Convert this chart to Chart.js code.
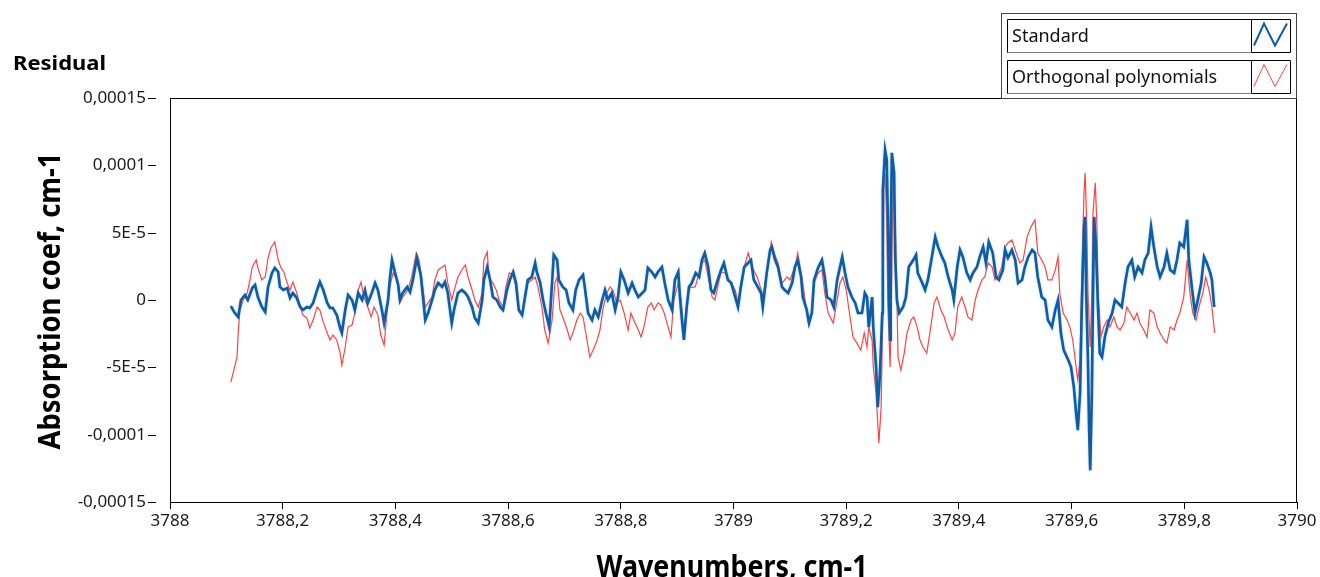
<!DOCTYPE html>
<html>
<head>
<meta charset="utf-8">
<script src="https://cdn.jsdelivr.net/npm/chart.js@4.4.1/dist/chart.umd.min.js"></script>
<style>
  html, body { margin: 0; padding: 0; background: #fff; }
  #chart { display: block; }
</style>
</head>
<body>
<canvas id="chart" width="1320" height="577"></canvas>
<script>
// residuals, y values in units of 1E-5 cm-1
const standardWn = [
  3788.108,3788.115,3788.121,3788.126,3788.133,3788.138,3788.146,3788.151,3788.156,3788.163,
  3788.169,3788.174,3788.181,3788.186,3788.192,3788.195,3788.201,3788.208,3788.213,3788.218,
  3788.225,3788.231,3788.236,3788.243,3788.248,3788.254,3788.261,3788.266,3788.272,3788.279,
  3788.284,3788.289,3788.296,3788.302,3788.305,3788.311,3788.316,3788.323,3788.328,3788.334,
  3788.341,3788.346,3788.351,3788.358,3788.364,3788.369,3788.376,3788.380,3788.387,3788.390,
  3788.394,3788.399,3788.405,3788.408,3788.413,3788.421,3788.426,3788.431,3788.438,3788.445,
  3788.449,3788.453,3788.458,3788.465,3788.470,3788.476,3788.483,3788.488,3788.493,3788.500,
  3788.504,3788.511,3788.518,3788.524,3788.529,3788.536,3788.541,3788.547,3788.554,3788.557,
  3788.563,3788.568,3788.573,3788.580,3788.586,3788.591,3788.598,3788.603,3788.609,3788.614,
  3788.619,3788.625,3788.630,3788.635,3788.642,3788.648,3788.651,3788.657,3788.662,3788.667,
  3788.673,3788.678,3788.681,3788.687,3788.690,3788.697,3788.703,3788.708,3788.715,3788.720,
  3788.726,3788.733,3788.736,3788.742,3788.749,3788.754,3788.760,3788.767,3788.772,3788.777,
  3788.784,3788.790,3788.795,3788.800,3788.806,3788.813,3788.820,3788.825,3788.831,3788.838,
  3788.843,3788.848,3788.855,3788.861,3788.866,3788.873,3788.878,3788.884,3788.891,3788.896,
  3788.902,3788.905,3788.909,3788.912,3788.917,3788.921,3788.926,3788.933,3788.939,3788.944,
  3788.949,3788.955,3788.960,3788.965,3788.972,3788.978,3788.983,3788.990,3788.996,3789.001,
  3789.008,3789.013,3789.019,3789.026,3789.031,3789.036,3789.043,3789.049,3789.052,3789.059,
  3789.065,3789.068,3789.074,3789.079,3789.086,3789.091,3789.097,3789.104,3789.109,3789.114,
  3789.120,3789.123,3789.130,3789.134,3789.139,3789.143,3789.150,3789.157,3789.162,3789.166,
  3789.173,3789.178,3789.184,3789.189,3789.193,3789.198,3789.203,3789.210,3789.216,3789.221,
  3789.228,3789.233,3789.237,3789.240,3789.246,3789.248,3789.253,3789.256,3789.260,3789.264,
  3789.265,3789.269,3789.272,3789.274,3789.276,3789.278,3789.279,3789.281,3789.285,3789.287,
  3789.290,3789.294,3789.301,3789.306,3789.311,3789.319,3789.324,3789.327,3789.335,3789.340,
  3789.345,3789.352,3789.358,3789.363,3789.370,3789.375,3789.381,3789.388,3789.391,3789.397,
  3789.402,3789.407,3789.414,3789.420,3789.425,3789.432,3789.437,3789.443,3789.448,3789.453,
  3789.460,3789.466,3789.471,3789.478,3789.482,3789.487,3789.494,3789.500,3789.505,3789.512,
  3789.517,3789.523,3789.530,3789.535,3789.540,3789.547,3789.553,3789.558,3789.565,3789.571,
  3789.576,3789.581,3789.586,3789.594,3789.599,3789.604,3789.608,3789.611,3789.615,3789.618,
  3789.622,3789.624,3789.626,3789.629,3789.631,3789.633,3789.636,3789.638,3789.640,3789.643,
  3789.647,3789.650,3789.654,3789.659,3789.665,3789.672,3789.677,3789.682,3789.689,3789.695,
  3789.700,3789.707,3789.712,3789.718,3789.725,3789.730,3789.736,3789.741,3789.746,3789.752,
  3789.757,3789.764,3789.769,3789.775,3789.782,3789.787,3789.792,3789.799,3789.805,3789.808,
  3789.814,3789.819,3789.824,3789.830,3789.835,3789.840,3789.846,3789.849,3789.853
];
const standardE5 = [
  -0.45,-0.97,-1.26,0,0.37,0,0.89,1.12,0.22,-0.52,
  -0.89,0.97,2.01,2.38,2.08,0.97,0.74,0.89,0.15,0.52,
  0.15,-0.52,-0.74,-0.52,-0.59,-0.22,0.74,1.34,0.74,-0.22,
  -0.59,-0.59,-1.12,-2.08,-2.45,-0.74,0.37,0,-0.74,0.52,
  0,0.74,-0.22,0.52,1.26,0.74,-0.74,-1.71,0,1.49,
  2.97,2.08,1.12,0,0.52,0.97,0.59,1.49,3.12,1.86,
  0.22,-1.49,-0.97,0,0.74,1.26,0.97,1.34,0.52,-1.71,
  -0.74,0.52,0.74,0.52,0.22,-0.52,-1.34,-1.71,0,1.49,
  2.45,1.49,0.22,0,-0.52,-0.74,0.74,1.49,2.08,1.26,
  -0.74,-1.12,0.22,1.49,1.71,2.75,2.08,1.26,0,-0.97,
  -2.01,1.26,3.35,2.97,1.49,0.97,0.74,-0.22,-0.74,0.74,
  1.49,1.86,0.97,-0.97,-1.49,-0.74,-1.26,0,0.74,0,
  0.52,-0.74,0.22,2.08,1.49,0.52,1.26,0.74,0.22,0.52,
  0.74,2.38,2.08,1.71,2.08,2.45,1.26,0,-0.74,1.49,
  2.08,0.22,-1.71,-2.97,-0.52,0.97,1.26,2.01,1.71,2.97,
  3.49,2.45,0.74,0.52,1.49,2.23,2.75,1.49,1.26,0.52,
  -0.52,0.97,2.45,2.75,2.97,1.49,0.97,0.52,-0.52,2.01,
  3.72,3.94,2.97,2.45,0.97,0.74,0.52,1.26,2.45,2.97,
  1.71,0.22,-0.74,-1.71,-0.97,1.49,2.38,2.97,1.71,0.22,
  0,-0.52,1.49,2.45,3.20,2.01,0.97,0.22,-0.22,-0.97,
  -0.97,0.52,0.22,-2.01,0.22,-2.01,-4.98,-7.96,-5.43,-0.97,
  8.18,11.15,10.41,5.72,0,-2.97,4.46,10.93,9.44,3.20,
  0,-0.97,-0.52,0.22,2.45,2.97,3.35,2.01,1.26,0.74,
  1.49,3.20,4.68,3.94,3.20,2.75,1.71,0.74,0,2.45,
  3.72,3.20,2.01,1.49,2.01,2.45,3.20,3.94,2.75,4.31,
  3.49,1.71,1.49,2.23,3.72,3.12,3.72,2.97,1.26,1.49,
  2.45,3.20,3.72,3.49,1.71,0.22,0,-1.49,-2.01,-0.74,
  0,-2.45,-3.72,-4.46,-4.98,-6.47,-8.40,-9.67,-6.91,-0.74,
  5.43,6.17,0.52,-4.46,-9.44,-12.64,-6.91,0.52,6.17,4.24,
  -0.74,-3.94,-4.24,-2.75,-1.71,-0.97,0,-0.22,-0.52,1.26,
  2.45,2.97,1.71,2.45,2.01,2.97,3.49,5.43,3.94,2.45,
  1.71,2.45,3.49,2.23,2.01,2.97,4.24,3.94,5.95,2.97,
  0.74,-0.97,0,1.26,3.20,2.75,2.01,1.49,-0.52
];
const orthoWn = [
  3788.108,3788.112,3788.119,3788.121,3788.124,3788.130,3788.137,3788.142,3788.146,3788.153,
  3788.156,3788.163,3788.169,3788.174,3788.179,3788.186,3788.192,3788.197,3788.202,3788.208,
  3788.213,3788.218,3788.225,3788.231,3788.236,3788.243,3788.248,3788.254,3788.261,3788.266,
  3788.272,3788.279,3788.284,3788.289,3788.296,3788.302,3788.305,3788.311,3788.316,3788.323,
  3788.328,3788.334,3788.339,3788.344,3788.351,3788.357,3788.362,3788.369,3788.374,3788.380,
  3788.385,3788.390,3788.396,3788.403,3788.408,3788.413,3788.422,3788.429,3788.437,3788.442,
  3788.447,3788.453,3788.458,3788.465,3788.470,3788.476,3788.483,3788.488,3788.493,3788.500,
  3788.506,3788.511,3788.518,3788.524,3788.529,3788.536,3788.541,3788.547,3788.554,3788.557,
  3788.563,3788.566,3788.573,3788.579,3788.584,3788.591,3788.596,3788.602,3788.609,3788.614,
  3788.619,3788.625,3788.630,3788.635,3788.642,3788.648,3788.653,3788.660,3788.665,3788.671,
  3788.678,3788.683,3788.687,3788.692,3788.697,3788.705,3788.710,3788.715,3788.722,3788.728,
  3788.733,3788.740,3788.745,3788.751,3788.758,3788.763,3788.768,3788.775,3788.781,3788.786,
  3788.793,3788.799,3788.806,3788.813,3788.818,3788.823,3788.831,3788.836,3788.841,3788.848,
  3788.854,3788.859,3788.866,3788.871,3788.877,3788.884,3788.889,3788.894,3788.902,3788.907,
  3788.912,3788.917,3788.921,3788.932,3788.944,3788.949,3788.962,3788.967,3788.978,3788.985,
  3789.003,3789.008,3789.019,3789.026,3789.033,3789.042,3789.051,3789.052,3789.059,3789.067,
  3789.072,3789.079,3789.086,3789.095,3789.100,3789.109,3789.114,3789.122,3789.127,3789.132,
  3789.139,3789.143,3789.150,3789.157,3789.162,3789.168,3789.177,3789.184,3789.189,3789.194,
  3789.200,3789.205,3789.212,3789.219,3789.226,3789.232,3789.237,3789.240,3789.246,3789.248,
  3789.253,3789.256,3789.258,3789.262,3789.265,3789.267,3789.269,3789.272,3789.274,3789.278,
  3789.281,3789.283,3789.287,3789.290,3789.292,3789.297,3789.303,3789.308,3789.315,3789.320,
  3789.326,3789.331,3789.336,3789.343,3789.350,3789.356,3789.361,3789.368,3789.374,3789.379,
  3789.388,3789.393,3789.398,3789.405,3789.411,3789.416,3789.423,3789.429,3789.434,3789.441,
  3789.446,3789.452,3789.459,3789.464,3789.469,3789.476,3789.482,3789.487,3789.494,3789.500,
  3789.508,3789.514,3789.521,3789.528,3789.535,3789.540,3789.547,3789.553,3789.558,3789.565,
  3789.571,3789.576,3789.579,3789.585,3789.592,3789.597,3789.602,3789.608,3789.611,3789.615,
  3789.618,3789.622,3789.624,3789.627,3789.629,3789.633,3789.636,3789.638,3789.642,3789.645,
  3789.647,3789.652,3789.657,3789.663,3789.668,3789.675,3789.681,3789.686,3789.693,3789.698,
  3789.704,3789.711,3789.716,3789.721,3789.728,3789.734,3789.739,3789.746,3789.752,3789.757,
  3789.764,3789.769,3789.775,3789.782,3789.787,3789.792,3789.799,3789.805,3789.810,3789.815,
  3789.821,3789.826,3789.833,3789.838,3789.844,3789.849,3789.854
];
const orthoE5 = [
  -6.10,-5.43,-4.24,-2.45,-0.74,0,0.52,1.49,2.45,2.97,
  2.38,1.49,1.71,3.12,3.87,4.31,2.97,2.38,2.08,1.26,
  0.74,1.34,0.52,-0.52,-1.12,-1.34,-2.08,-1.49,-0.52,-0.74,
  -1.64,-2.45,-2.97,-2.60,-2.97,-3.94,-4.83,-3.49,-2.01,-1.86,
  -0.97,0.74,1.34,0.22,-0.52,-1.26,-0.52,-1.12,-2.60,-3.35,
  -0.97,0.97,2.01,1.49,-0.22,0.22,0.74,1.71,3.49,2.97,
  1.49,-0.52,-0.22,0.22,1.49,2.23,2.45,2.60,1.26,0,
  0.97,1.71,2.23,2.60,1.71,0.74,0,-0.52,0.52,2.97,
  3.57,1.71,1.26,0.74,0,-0.52,0.97,2.01,1.86,0.97,
  -0.74,-0.97,0.22,1.26,1.49,1.71,0.97,-0.52,-2.23,-3.20,
  -1.49,1.26,1.71,-0.74,-1.26,-2.23,-2.97,-2.45,-1.49,-0.97,
  -1.26,-2.97,-4.24,-3.72,-2.97,-2.23,-0.74,0.52,0.97,0.74,
  -0.22,0,-0.97,-2.23,-0.97,-1.49,-2.23,-2.75,-2.01,-0.52,
  -0.22,-0.74,-0.22,-0.37,-0.97,-2.01,-2.75,0,1.26,0,
  -2.45,-0.52,0.89,0.97,2.75,2.97,0.22,0,2.08,2.01,
  0.74,-0.22,2.45,3.49,2.45,1.71,0.52,0,2.01,4.31,
  3.49,2.75,1.26,1.71,1.49,2.45,3.49,1.49,0,-1.49,
  -0.97,1.26,2.01,2.23,0.52,-0.97,-1.71,0,1.26,1.71,
  0.74,-0.74,-2.75,-3.20,-3.72,-2.45,-3.49,-2.01,-2.97,-4.98,
  -6.91,-9.15,-10.63,-7.96,-0.52,8.18,9.44,5.95,-0.52,-4.98,
  2.01,8.70,5.72,0,-4.24,-5.20,-3.94,-2.45,-1.49,-1.26,
  -2.01,-2.97,-3.49,-3.94,-2.01,-0.22,0.22,-0.74,-1.26,-2.01,
  -2.97,-2.45,-0.52,0.22,-0.52,-1.26,-1.49,0,0.74,1.49,
  1.71,2.75,2.45,1.49,1.71,2.45,3.94,4.24,4.46,3.72,
  2.75,2.97,4.68,5.43,5.95,3.49,2.97,2.45,1.49,1.49,
  2.23,3.20,0.52,-0.97,-1.49,-2.01,-2.97,-4.98,-5.95,-4.46,
  1.71,7.96,9.44,5.43,0.52,-3.49,0.52,6.47,8.70,5.43,
  0.52,-2.75,-2.01,-1.49,-2.01,-1.26,-2.01,-2.23,-1.71,-0.52,
  -0.97,-1.49,-0.97,-1.71,-2.23,-2.75,-0.74,-0.97,-2.01,-2.45,
  -2.97,-3.20,-2.01,-2.23,-1.49,-0.97,0.22,2.97,0.52,-0.97,
  -1.49,-0.52,0.52,1.71,0.74,-0.52,-2.45
];

const xTickValues = [3788, 3788.2, 3788.4, 3788.6, 3788.8, 3789, 3789.2, 3789.4, 3789.6, 3789.8, 3790];
const xTickLabels = ['3788', '3788,2', '3788,4', '3788,6', '3788,8', '3789', '3789,2', '3789,4', '3789,6', '3789,8', '3790'];
const yTickValues = [-15, -10, -5, 0, 5, 10, 15];
const yTickLabels = ['-0,00015', '-0,0001', '-5E-5', '0', '5E-5', '0,0001', '0,00015'];

const seriesNames = ['Standard', 'Orthogonal polynomials'];
const seriesColors = ['#0d5ca4', '#ff4242'];
const seriesWidths = [2.6, 1.2];

const FONT = '"Noto Sans", "Open Sans", sans-serif';

function toPoints(xs, ys) {
    return xs.map((x, i) => ({ x: x, y: ys[i] }));
}

// bold titles in the reference are narrow, so squeeze them to the measured width
function squeezedText(ctx, text, x, y, width, font, rotate) {
    ctx.save();
    ctx.font = font;
    const w = ctx.measureText(text).width;
    ctx.translate(x, y);
    if (rotate) ctx.rotate(-Math.PI / 2);
    ctx.scale(width / w, 1);
    ctx.fillText(text, 0, 0);
    ctx.restore();
}

// soft light-blue edge around the standard trace, like the reference rendering
const halo = {
    id: 'halo',
    beforeDatasetDraw(chart, args) {
        if (args.index !== 0) return;
        chart.ctx.save();
        chart.ctx.shadowColor = 'rgba(110, 165, 220, 0.7)';
        chart.ctx.shadowBlur = 2;
    },
    afterDatasetDraw(chart, args) {
        if (args.index !== 0) return;
        chart.ctx.restore();
    }
};

const decorations = {
    id: 'decorations',
    afterDraw(chart) {
        const ctx = chart.ctx;
        const a = chart.chartArea;
        const ys = chart.scales.y;
        ctx.save();

        // plot frame
        ctx.strokeStyle = '#000';
        ctx.lineWidth = 1;
        ctx.strokeRect(a.left + 0.5, a.top + 0.5, a.right - a.left - 1, a.bottom - a.top);

        // y tick dashes sit apart from the frame
        ys.ticks.forEach(t => {
            const py = Math.round(ys.getPixelForValue(t.value)) + 0.5;
            ctx.beginPath();
            ctx.moveTo(a.left - 22, py);
            ctx.lineTo(a.left - 14, py);
            ctx.stroke();
        });

        // titles
        ctx.fillStyle = '#000';
        ctx.textBaseline = 'alphabetic';
        ctx.textAlign = 'left';
        squeezedText(ctx, 'Residual', 13, 70, 93, 'bold 20px ' + FONT, false);
        ctx.textAlign = 'center';
        squeezedText(ctx, 'Absorption coef, cm-1', 60, 301, 297, 'bold 31px ' + FONT, true);
        squeezedText(ctx, 'Wavenumbers, cm-1', 732, 577, 271, 'bold 30px ' + FONT, false);

        // legend
        ctx.strokeStyle = '#444';
        ctx.strokeRect(1001.5, 13.5, 295, 85);
        chart.data.datasets.forEach((ds, i) => {
            const top = 19.5 + i * 41;
            const h = 33;
            ctx.strokeStyle = '#000';
            ctx.lineWidth = 1;
            ctx.setLineDash([]);
            ctx.beginPath();
            ctx.moveTo(1007.5, top + h);
            ctx.lineTo(1007.5, top);
            ctx.lineTo(1290.5, top);
            ctx.lineTo(1290.5, top + h);
            ctx.lineTo(1251.5, top + h);
            ctx.moveTo(1251.5, top);
            ctx.lineTo(1251.5, top + h);
            ctx.stroke();
            ctx.setLineDash([1, 1]);
            ctx.beginPath();
            ctx.moveTo(1007.5, top + h);
            ctx.lineTo(1251.5, top + h);
            ctx.stroke();
            ctx.setLineDash([]);

            ctx.fillStyle = '#111';
            ctx.font = '18px ' + FONT;
            ctx.textAlign = 'left';
            ctx.textBaseline = 'middle';
            ctx.fillText(ds.label, 1012, top + 17);

            ctx.strokeStyle = ds.borderColor;
            ctx.lineWidth = i === 0 ? 2 : 1;
            ctx.beginPath();
            ctx.moveTo(1254, top + 26);
            ctx.lineTo(1264, top + 4);
            ctx.lineTo(1275, top + 26);
            ctx.lineTo(1287, top + 4);
            ctx.stroke();
        });
        ctx.restore();
    }
};

new Chart(document.getElementById('chart'), {
    type: 'line',
    data: {
        datasets: [
            {
                label: seriesNames[0],
                data: toPoints(standardWn, standardE5),
                borderColor: seriesColors[0],
                borderWidth: seriesWidths[0],
                pointRadius: 0,
                tension: 0
            },
            {
                label: seriesNames[1],
                data: toPoints(orthoWn, orthoE5),
                borderColor: seriesColors[1],
                borderWidth: seriesWidths[1],
                pointRadius: 0,
                tension: 0
            }
        ]
    },
    options: {
        responsive: false,
        animation: false,
        devicePixelRatio: 1,
        layout: { padding: { top: 98, right: 23, left: 0, bottom: 0 } },
        plugins: {
            legend: { display: false },
            tooltip: { enabled: false }
        },
        scales: {
            x: {
                type: 'linear',
                min: 3788,
                max: 3790,
                afterFit: s => { s.height = 75; },
                afterBuildTicks: s => { s.ticks = xTickValues.map(v => ({ value: v })); },
                grid: { display: true, drawOnChartArea: false, drawTicks: true, tickLength: 7, color: '#000' },
                border: { display: false },
                ticks: {
                    padding: 2,
                    maxRotation: 0,
                    autoSkip: false,
                    color: '#1a1a1a',
                    font: { family: FONT, size: 17 },
                    callback: (v, i) => xTickLabels[i]
                }
            },
            y: {
                type: 'linear',
                min: -15,
                max: 15,
                afterFit: s => { s.width = 170; },
                afterBuildTicks: s => { s.ticks = yTickValues.map(v => ({ value: v })); },
                grid: { display: false, drawTicks: false },
                border: { display: false },
                ticks: {
                    padding: 24,
                    autoSkip: false,
                    color: '#1a1a1a',
                    font: { family: FONT, size: 17 },
                    callback: (v, i) => yTickLabels[i]
                }
            }
        }
    },
    plugins: [halo, decorations]
});
</script>
</body>
</html>
